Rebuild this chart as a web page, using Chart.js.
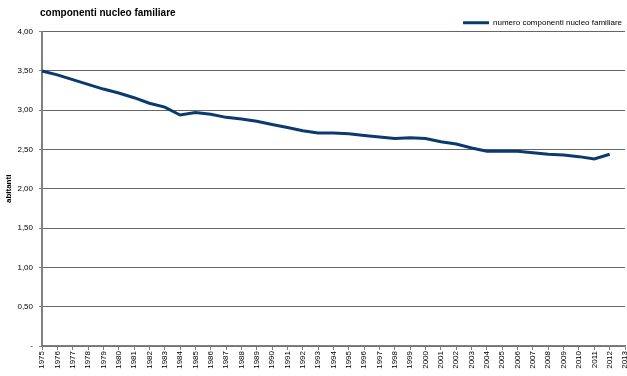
<!DOCTYPE html>
<html>
<head>
<meta charset="utf-8">
<script src="https://cdn.jsdelivr.net/npm/chart.js@4.4.0/dist/chart.umd.min.js"></script>
<style>
  html, body { margin: 0; padding: 0; background: #fff; }
  #wrap { width: 627px; height: 376px; position: relative; }
</style>
</head>
<body>
<div id="wrap"><canvas id="chart"></canvas></div>
<script>
// anni (1975-2013, l'ultimo senza valore)
const years = [];
for (let y = 1975; y <= 2013; y++) years.push(String(y));

// numero medio componenti per nucleo familiare
const componenti = [
  3.50, 3.45, 3.39, 3.33, 3.27, 3.22, 3.16, 3.09, 3.04, 2.94,
  2.97, 2.95, 2.91, 2.89, 2.86, 2.82, 2.78, 2.74, 2.71, 2.71,
  2.70, 2.68, 2.66, 2.64, 2.65, 2.64, 2.60, 2.57, 2.52, 2.48,
  2.48, 2.48, 2.46, 2.44, 2.43, 2.41, 2.38, 2.44
];

const lineColor = '#0b3a6e';
const fontFamily = 'Arial, "Liberation Sans", sans-serif';

// titolo allineato all'area del grafico, legenda un po' piu' in basso
const placeHeader = {
  id: 'placeHeader',
  afterLayout(c) {
    c.titleBlock.left = c.chartArea.left - 2;
    c.legend.top += 5;
    c.legend.bottom += 5;
  }
};

const ctx = document.getElementById('chart').getContext('2d');
const chart = new Chart(ctx, {
  type: 'line',
  data: {
    labels: years,
    datasets: [{
      label: 'numero componenti nucleo familiare',
      data: componenti,
      borderColor: lineColor,
      backgroundColor: lineColor,
      borderWidth: 3,
      pointRadius: 0,
      tension: 0,
      fill: false
    }]
  },
  options: {
    responsive: true,
    maintainAspectRatio: false,
    animation: false,
    layout: { padding: { left: 0, right: 1, top: 0, bottom: 0 } },
    plugins: {
      title: {
        display: true,
        text: 'componenti nucleo familiare',
        align: 'start',
        color: '#000',
        font: { family: fontFamily, size: 10, weight: 'bold' },
        padding: { top: 7, bottom: -9.3 }
      },
      legend: {
        display: true,
        position: 'top',
        align: 'end',
        labels: {
          color: '#000',
          font: { family: fontFamily, size: 8 },
          boxWidth: 26,
          boxHeight: 3,
          padding: 4,
          generateLabels: c => Chart.defaults.plugins.legend.labels.generateLabels(c)
            .map(l => ({ ...l, lineWidth: 0, fillStyle: lineColor }))
        }
      },
      tooltip: { enabled: false }
    },
    scales: {
      x: {
        type: 'category',
        offset: false,
        afterFit: s => { s.height = 30; s.paddingRight = 2; s.paddingLeft = 0; },
        border: { display: true, color: '#808080', width: 1.5 },
        grid: { display: true, drawOnChartArea: false, drawTicks: true, tickLength: 4, color: '#808080', offset: false },
        ticks: {
          autoSkip: false,
          maxRotation: 90,
          minRotation: 90,
          padding: 1,
          color: '#000',
          font: { family: fontFamily, size: 8 }
        }
      },
      y: {
        min: 0,
        max: 4,
        afterFit: s => { s.width = 42; },
        border: { display: true, color: '#808080', width: 2 },
        grid: {
          color: '#666',
          lineWidth: 1,
          tickLength: 3,
          tickColor: '#808080',
          borderDash: [3, 1]
        },
        title: {
          display: true,
          text: 'abitanti',
          color: '#000',
          font: { family: fontFamily, size: 8, weight: 'bold' },
          padding: { top: 4, bottom: 0 }
        },
        ticks: {
          stepSize: 0.5,
          padding: 6,
          color: '#000',
          font: { family: fontFamily, size: 8 },
          callback: v => v === 0 ? '-' : v.toFixed(2).replace('.', ',')
        }
      }
    }
  },
  plugins: [placeHeader]
});
</script>
</body>
</html>
